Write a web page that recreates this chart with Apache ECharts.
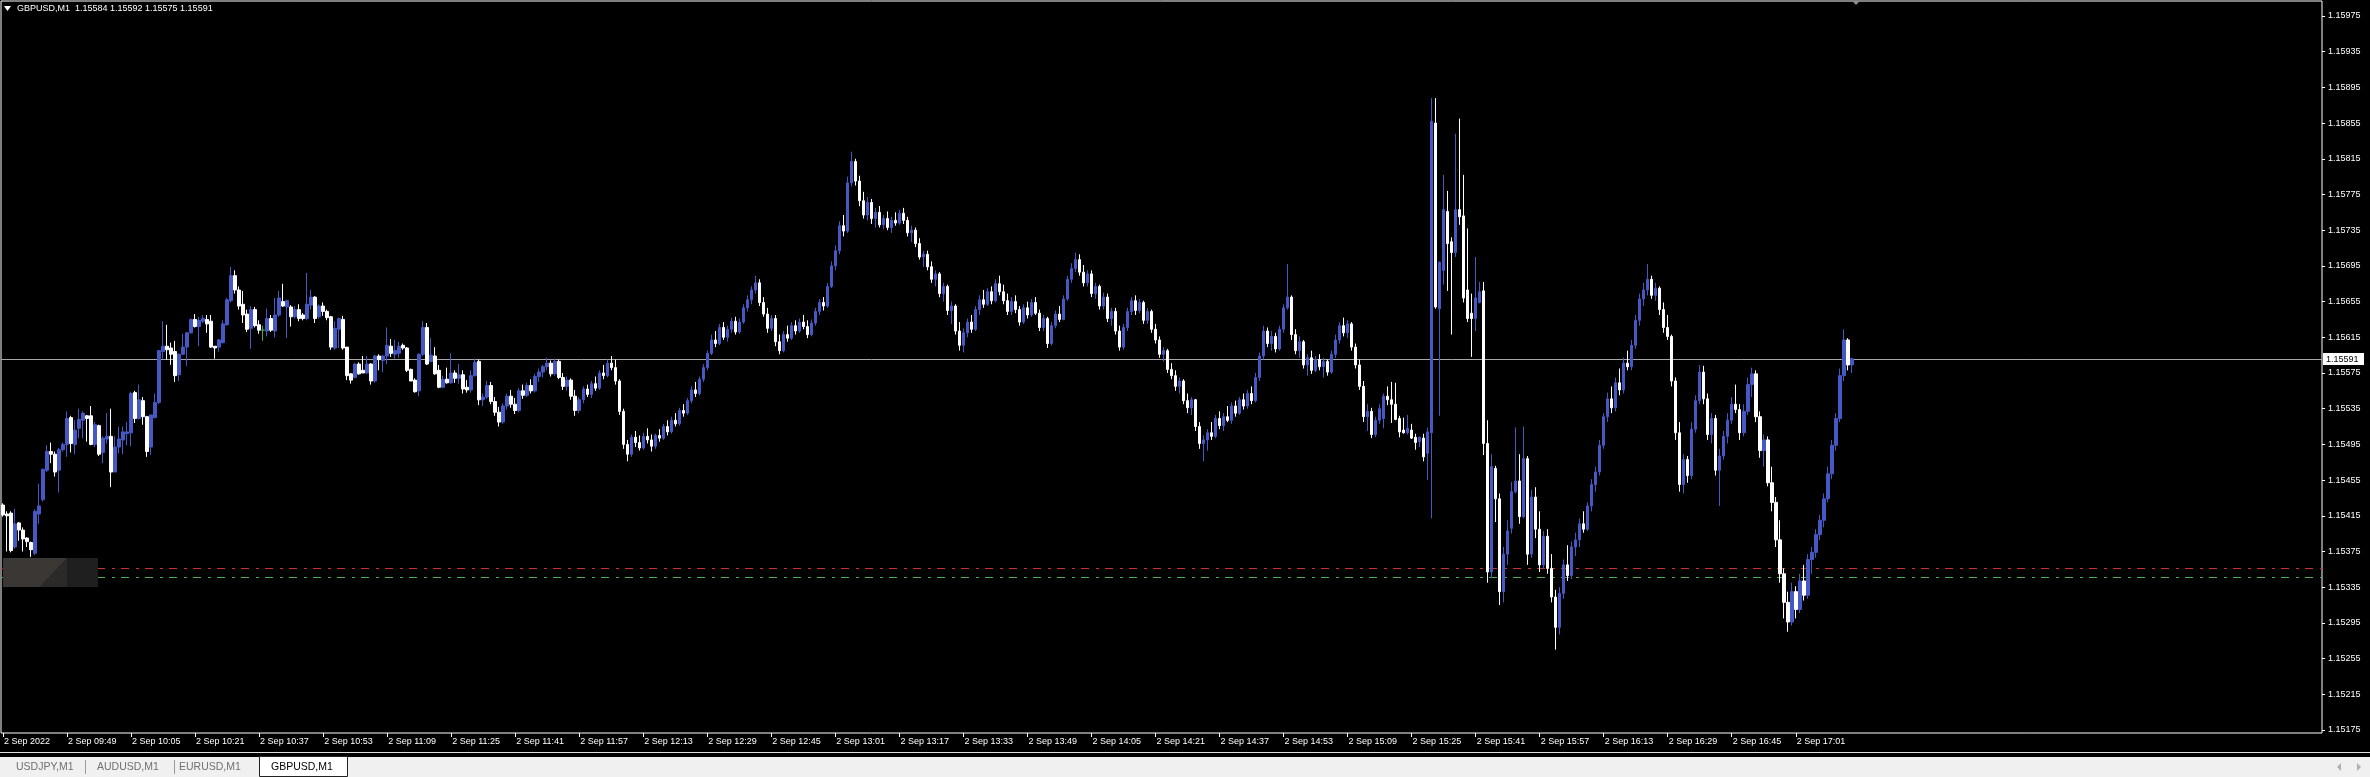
<!DOCTYPE html>
<html><head><meta charset="utf-8">
<script src="https://cdn.jsdelivr.net/npm/echarts@6/dist/echarts.min.js"></script>
<style>html,body{margin:0;padding:0;background:#000;}#c{width:2370px;height:777px;}</style>
</head><body><div id="c"></div><script>
// ---- data: one row per M1 bar, [open, high, low, close] in points above 1.15000 (584 -> 1.15584) ----
const firstBarTime = '09:33';
const totalSlots = 580;
const barsOHLC = [
[427,429,414,416],[417,420,375,415],[418,420,374,376],[380,423,378,406],[407,408,387,399],
[399,402,375,389],[390,391,380,386],[385,386,369,377],[373,422,371,420],[417,451,406,426],
[433,468,431,467],[466,494,464,487],[487,497,474,484],[484,487,459,464],[466,491,441,489],
[489,497,487,495],[495,532,481,524],[525,527,486,496],[495,522,484,511],[513,535,502,523],
[522,532,502,530],[527,528,498,524],[527,538,494,495],[495,520,492,517],[516,517,482,484],
[486,504,474,502],[501,530,496,504],[504,535,447,464],[464,504,464,492],[492,515,485,501],
[500,515,484,509],[507,520,494,509],[508,554,493,552],[553,555,519,524],[524,562,523,545],
[544,548,517,526],[526,527,481,487],[492,528,483,528],[525,552,524,542],[542,601,540,600],
[599,633,591,605],[605,629,590,601],[603,609,584,596],[599,611,565,572],[573,597,566,596],
[596,619,595,604],[604,621,583,620],[620,636,619,635],[635,641,626,627],[627,638,605,634],
[633,640,631,636],[635,640,620,630],[633,640,603,604],[605,605,591,603],[604,613,599,612],
[609,634,608,630],[629,659,628,657],[656,694,654,684],[684,690,664,668],[668,672,646,650],
[652,667,631,640],[641,646,621,624],[625,650,602,646],[646,649,626,628],[629,634,619,623],
[623,628,611,623],[622,647,616,636],[636,640,621,623],[622,659,615,640],[640,667,638,659],
[655,675,649,650],[649,657,614,656],[649,651,627,638],[638,650,636,646],[646,652,633,636],
[640,642,634,636],[636,687,634,652],[651,668,646,660],[660,661,631,636],[638,652,636,650],
[650,654,639,644],[644,646,634,637],[638,639,601,604],[603,633,601,625],[624,637,603,636],
[635,639,601,603],[604,604,567,572],[574,575,563,567],[570,586,569,585],[585,587,573,574],
[578,594,575,575],[575,594,574,585],[585,586,562,566],[566,595,564,594],[594,596,578,590],
[589,595,576,594],[594,626,585,606],[605,613,593,597],[596,612,591,600],[597,610,592,605],
[606,608,601,603],[603,604,576,578],[579,580,566,566],[567,569,553,554],[555,597,549,596],
[596,633,594,626],[626,631,584,585],[588,614,587,595],[594,604,573,574],[578,584,558,559],
[559,572,558,568],[568,581,563,564],[564,597,563,575],[575,578,564,569],[569,585,563,573],
[573,578,552,557],[559,567,553,556],[556,578,553,572],[572,591,571,587],[588,590,539,545],
[545,552,538,548],[548,566,546,561],[561,565,540,543],[543,548,527,531],[531,537,515,520],
[520,541,518,538],[538,552,534,549],[549,556,536,540],[540,547,529,533],[533,558,531,555],
[555,562,546,550],[550,564,548,561],[561,568,552,555],[555,574,553,571],[571,580,565,576],
[576,584,570,582],[582,592,578,586],[586,589,571,574],[574,591,572,588],[588,590,568,570],
[570,575,556,560],[560,571,555,567],[567,569,545,549],[549,556,527,533],[533,548,530,545],
[545,560,541,557],[557,562,548,551],[551,566,547,563],[563,571,555,558],[558,578,556,575],
[575,584,568,572],[572,590,570,586],[586,594,578,581],[581,590,562,566],[566,568,528,532],
[532,535,490,495],[495,500,476,484],[484,506,481,503],[503,510,492,497],[497,505,488,491],
[491,508,489,504],[504,513,496,500],[500,506,487,493],[493,507,490,505],[505,512,498,502],
[502,518,500,515],[515,522,505,509],[509,526,507,522],[522,530,515,518],[518,536,516,533],
[533,540,526,530],[530,547,528,544],[544,560,541,556],[556,565,548,552],[552,571,550,568],
[568,585,565,581],[581,600,578,597],[597,618,595,612],[612,622,604,608],[608,630,606,626],
[626,632,612,615],[615,628,610,624],[624,637,620,633],[633,638,618,621],[621,636,619,632],
[632,652,630,648],[648,662,644,657],[657,672,652,668],[668,684,664,676],[676,680,650,654],
[654,660,638,641],[641,648,620,625],[625,640,622,636],[636,640,605,610],[610,618,596,600],
[600,622,598,618],[618,628,610,614],[614,632,612,628],[628,634,618,622],[622,636,620,632],
[632,640,624,627],[627,634,614,618],[618,635,616,631],[631,648,628,644],[644,658,640,654],
[654,660,645,650],[650,676,648,672],[672,700,670,695],[695,718,690,712],[712,745,708,740],
[740,752,728,734],[734,795,732,788],[788,823,784,812],[812,815,785,790],[790,796,762,768],
[768,778,748,752],[752,772,746,766],[766,770,742,748],[748,760,738,755],[755,762,738,741],
[741,752,736,748],[748,756,735,738],[738,750,732,746],[746,755,740,743],[743,758,741,754],
[754,760,742,746],[746,750,728,732],[732,740,722,735],[735,738,716,720],[720,726,702,705],
[705,712,694,708],[708,712,690,694],[694,700,676,680],[680,690,672,686],[686,688,660,664],
[664,676,655,672],[672,674,640,645],[645,655,630,650],[650,652,618,622],[622,632,600,606],
[606,625,598,620],[620,636,615,632],[632,640,620,624],[624,650,622,646],[646,662,640,657],
[657,668,648,652],[652,670,650,666],[666,672,652,656],[656,680,654,675],[675,684,662,666],
[666,674,652,656],[656,664,640,644],[644,660,640,655],[655,662,642,646],[646,650,628,632],
[632,652,630,648],[648,655,636,640],[640,658,638,654],[654,660,640,642],[642,646,622,626],
[626,640,622,636],[636,638,603,608],[608,632,606,628],[628,645,625,641],[641,650,632,635],
[635,662,634,658],[658,684,656,680],[680,698,676,692],[692,710,688,702],[702,708,684,688],
[688,696,672,676],[676,690,672,686],[686,690,660,664],[664,676,658,672],[672,674,646,650],
[650,665,646,660],[660,664,632,636],[636,648,628,644],[644,648,618,622],[622,628,600,604],
[604,630,601,626],[626,648,622,644],[644,660,640,656],[656,662,640,645],[645,658,642,654],
[654,656,630,634],[634,648,630,644],[644,646,620,624],[624,630,608,612],[612,616,592,596],
[596,604,588,600],[600,602,575,579],[579,586,568,572],[572,578,555,560],[560,570,552,566],
[566,568,540,544],[544,552,530,536],[536,548,528,545],[545,546,510,515],[515,520,490,496],
[496,505,476,500],[500,512,488,508],[508,520,500,504],[504,528,502,524],[524,532,512,516],
[516,530,510,526],[526,538,520,522],[522,542,518,538],[538,544,526,530],[530,548,528,545],
[545,552,534,538],[538,556,535,552],[552,560,540,544],[544,575,542,570],[570,598,566,594],
[594,628,590,622],[622,626,604,608],[608,622,600,616],[616,620,598,602],[602,628,600,624],
[624,652,620,648],[648,697,646,660],[660,662,612,618],[618,624,596,600],[600,616,592,610],
[610,612,580,584],[584,596,572,592],[592,600,574,578],[578,594,576,590],[590,596,578,582],
[582,592,570,588],[588,590,572,576],[576,600,574,596],[596,618,592,612],[612,632,608,628],
[628,637,616,620],[620,634,614,630],[630,632,600,604],[604,608,580,584],[584,590,556,560],
[560,566,520,526],[526,540,510,532],[532,536,502,506],[506,526,503,522],[522,540,518,535],
[524,552,513,549],[549,560,539,545],[545,565,519,540],[540,564,522,523],[524,527,503,509],
[511,525,507,508],[508,528,506,513],[511,518,501,502],[503,507,489,497],[498,504,492,503],
[502,507,476,481],[485,514,455,509],[508,883,412,857],[855,883,647,649],[647,700,527,699],
[690,797,674,758],[756,779,667,720],[722,727,618,710],[710,843,705,758],[758,860,741,750],
[751,797,654,659],[668,737,632,636],[642,664,593,636],[636,705,622,659],[654,677,653,666],
[667,677,483,496],[496,522,340,352],[352,484,345,470],[468,471,408,434],[434,440,315,330],
[330,380,318,372],[372,410,360,398],[401,453,395,442],[442,514,440,454],[454,484,406,414],
[414,515,412,479],[479,482,360,372],[372,444,368,436],[436,447,390,400],[400,420,352,360],
[360,398,356,392],[392,400,350,356],[356,372,318,324],[324,332,265,290],[290,335,282,328],
[328,366,322,360],[360,382,342,348],[348,386,344,380],[380,396,370,388],[388,412,380,406],
[406,420,396,400],[400,430,398,426],[426,456,420,450],[450,470,442,464],[464,500,460,494],
[494,530,490,526],[526,553,520,546],[546,560,530,536],[536,570,532,564],[564,580,550,556],
[556,592,552,586],[586,600,578,582],[582,612,578,606],[606,640,602,634],[634,664,628,658],
[658,676,650,668],[668,697,662,680],[680,684,658,662],[662,676,656,670],[670,672,640,646],
[646,654,620,626],[626,640,612,616],[616,618,560,566],[566,570,500,508],[508,520,442,450],
[450,484,440,478],[478,482,452,460],[460,520,456,512],[512,550,508,544],[544,584,540,576],
[576,583,540,546],[546,552,500,506],[506,530,496,524],[524,528,460,466],[466,490,426,482],
[482,510,478,504],[504,530,496,522],[522,548,518,540],[540,562,530,534],[534,540,500,508],
[508,540,504,532],[532,570,528,562],[562,581,548,574],[574,578,520,526],[526,532,480,488],
[488,506,470,500],[500,504,448,452],[452,470,420,430],[430,436,380,388],[388,410,340,350],
[350,356,300,318],[318,330,285,296],[296,340,292,330],[330,336,300,310],[310,350,306,342],
[342,360,320,326],[326,372,322,366],[366,380,350,374],[374,400,368,394],[394,416,388,410],
[410,440,402,434],[434,470,430,462],[462,500,456,494],[494,530,488,524],[524,580,520,572],
[572,624,566,612],[612,614,578,584],[584,592,575,591]
];
const xTickLabels = ['2 Sep 2022','2 Sep 09:49','2 Sep 10:05','2 Sep 10:21','2 Sep 10:37','2 Sep 10:53',
'2 Sep 11:09','2 Sep 11:25','2 Sep 11:41','2 Sep 11:57','2 Sep 12:13','2 Sep 12:29','2 Sep 12:45',
'2 Sep 13:01','2 Sep 13:17','2 Sep 13:33','2 Sep 13:49','2 Sep 14:05','2 Sep 14:21','2 Sep 14:37',
'2 Sep 14:53','2 Sep 15:09','2 Sep 15:25','2 Sep 15:41','2 Sep 15:57','2 Sep 16:13','2 Sep 16:29',
'2 Sep 16:45','2 Sep 17:01'];
const yTicks = [1.15175,1.15215,1.15255,1.15295,1.15335,1.15375,1.15415,1.15455,1.15495,1.15535,
1.15575,1.15615,1.15655,1.15695,1.15735,1.15775,1.15815,1.15855,1.15895,1.15935,1.15975];
const headerText = 'GBPUSD,M1  1.15584 1.15592 1.15575 1.15591';
const tabNames = ['USDJPY,M1','AUDUSD,M1','EURUSD,M1','GBPUSD,M1'];
const lastPrice = 1.15591, redLevel = 1.15356, greenLevel = 1.15346;

// ---- build ----
const FONT = '"Liberation Sans",Arial,sans-serif';
const toPrice = v => +(1.15 + v / 100000).toFixed(5);
const [hh, mm] = firstBarTime.split(':').map(Number);
const cats = [];
for (let i = 0; i < totalSlots; i++) {
  const t = hh * 60 + mm + i;
  cats.push(i < barsOHLC.length ? String(Math.floor(t / 60)).padStart(2, '0') + ':' + String(t % 60).padStart(2, '0') : '');
}
// echarts candlestick order: [open, close, low, high]
const candles = barsOHLC.map(b => [toPrice(b[0]), toPrice(b[3]), toPrice(b[2]), toPrice(b[1])]);
const isTick = idx => idx % 16 === 0 && idx / 16 < xTickLabels.length;

const chart = echarts.init(document.getElementById('c'), null, {renderer: 'canvas'});
chart.setOption({
  animation: false,
  backgroundColor: '#000',
  grid: {left:1, top:1, width:2321, height:732, show:true, borderColor:'#ffffff', borderWidth:1, backgroundColor:'#000'},
  xAxis: {
    type:'category', data: cats, boundaryGap:true,
    axisLine:{show:false},
    axisTick:{show:true, alignWithLabel:true, interval:(idx)=>isTick(idx), length:4, lineStyle:{color:'#fff'}},
    axisLabel:{show:true, interval:(idx)=>isTick(idx), formatter:(v, idx)=> isTick(idx) ? xTickLabels[idx/16] : '',
      color:'#fff', fontSize:9, fontFamily:FONT, align:'left', margin:4, padding:[0,0,0,1]},
    splitLine:{show:false}
  },
  yAxis: {
    type:'value', position:'right', min:1.151716, max:1.159918, scale:true,
    axisLine:{show:false},
    axisTick:{show:true, length:3, lineStyle:{color:'#fff'}, customValues: yTicks},
    axisLabel:{show:true, customValues: yTicks, formatter: v => v.toFixed(5), color:'#fff', fontSize:9, fontFamily:FONT, margin:6},
    splitLine:{show:false}
  },
  series: [{
    type:'candlestick', data: candles, barWidth:3, z:3,
    itemStyle:{color:'#4658c4', color0:'#ffffff', borderColor:'#4658c4', borderColor0:'#ffffff', borderColorDoji:'#3cb043', borderWidth:1}
  }]
});

// price levels and overlays positioned through the value axis
const yPix = p => Math.round(chart.convertToPixel({yAxisIndex:0}, p)) + 0.5;
const yLast = yPix(lastPrice), yRed = yPix(redLevel), yGreen = yPix(greenLevel);
const tabX = [16, 97, 179, 271];
const g = [];
g.push({type:'line', shape:{x1:1, y1:yLast, x2:2322, y2:yLast}, style:{stroke:'#a8a8a8', lineWidth:1}, z:1});
g.push({type:'line', shape:{x1:1, y1:yRed, x2:2322, y2:yRed}, style:{stroke:'#c83232', lineWidth:1, lineDash:[8,7,3,6]}, z:1});
g.push({type:'line', shape:{x1:1, y1:yGreen, x2:2322, y2:yGreen}, style:{stroke:'#4caf50', lineWidth:1, lineDash:[8,7,3,6]}, z:1});
g.push({type:'rect', shape:{x:2323, y:yLast - 6.5, width:41, height:12}, style:{fill:'#ffffff'}, z:100});
g.push({type:'text', x:2326, y:yLast, style:{text:lastPrice.toFixed(5), fill:'#000', font:'9px ' + FONT, verticalAlign:'middle'}, z:101});
// header
g.push({type:'polygon', shape:{points:[[4,6],[11,6],[7.5,11]]}, style:{fill:'#fff'}, z:100});
g.push({type:'text', x:17, y:9, style:{text:headerText, fill:'#fff', font:'9px ' + FONT, verticalAlign:'middle'}, z:100});
// chart shift marker
g.push({type:'polygon', shape:{points:[[1852,1],[1860,1],[1856,5]]}, style:{fill:'#8a8a8a'}, z:100});
// dark box lower-left
g.push({type:'rect', shape:{x:3,y:558,width:95,height:29}, style:{fill:'#1f1f1f'}, z:100});
g.push({type:'polygon', shape:{points:[[3,558],[67,558],[40,587],[3,587]]}, style:{fill:'#3a3735'}, z:101});
g.push({type:'polygon', shape:{points:[[67,558],[67,587],[40,587]]}, style:{fill:'#2c2a29'}, z:101});
// bottom window line + tab bar
g.push({type:'rect', shape:{x:0,y:752,width:2370,height:1}, style:{fill:'#e0e0e0'}, z:100});
g.push({type:'rect', shape:{x:0,y:757,width:2370,height:20}, style:{fill:'#f0f0f0'}, z:100});
g.push({type:'rect', shape:{x:259.5,y:756.5,width:88,height:20}, style:{fill:'#ffffff', stroke:'#222', lineWidth:1}, z:101});
g.push({type:'rect', shape:{x:85,y:760,width:1,height:14}, style:{fill:'#9a9a9a'}, z:101});
g.push({type:'rect', shape:{x:174,y:760,width:1,height:14}, style:{fill:'#9a9a9a'}, z:101});
tabNames.forEach((t, k) => g.push({type:'text', x:tabX[k], y:767, style:{text:t, fill: k === 3 ? '#000' : '#707070', font:'10.5px ' + FONT, verticalAlign:'middle'}, z:102}));
g.push({type:'polygon', shape:{points:[[2341,763],[2341,771],[2337,767]]}, style:{fill:'#b0b0b0'}, z:102});
g.push({type:'polygon', shape:{points:[[2357,763],[2357,771],[2361,767]]}, style:{fill:'#b0b0b0'}, z:102});
chart.setOption({graphic: g});
</script></body></html>
